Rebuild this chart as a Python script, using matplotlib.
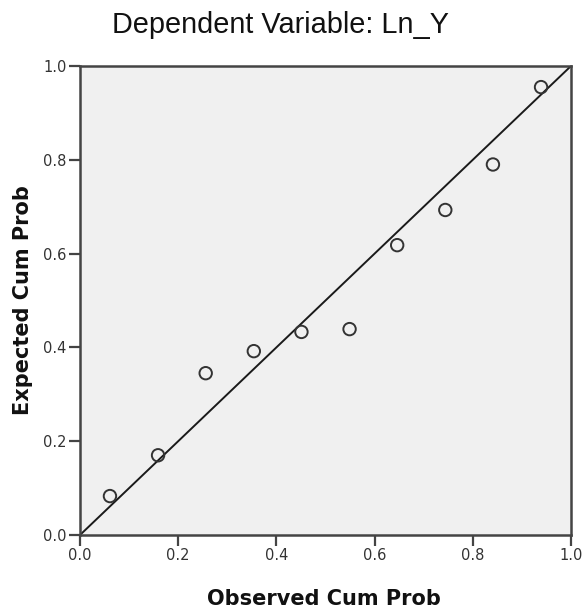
import matplotlib
matplotlib.use("Agg")
import matplotlib.pyplot as plt

observed = [0.061, 0.159, 0.256, 0.354, 0.451, 0.549, 0.646, 0.744, 0.841, 0.939]
expected = [0.083, 0.170, 0.345, 0.392, 0.433, 0.439, 0.618, 0.693, 0.790, 0.955]
ticks = [0.0, 0.2, 0.4, 0.6, 0.8, 1.0]
tick_labels = ["0.0", "0.2", "0.4", "0.6", "0.8", "1.0"]

plt.rcParams['font.family'] = ['DejaVu Sans']

W, H = 585, 610
fig = plt.figure(figsize=(W/100, H/100), dpi=100)
ax = fig.add_axes([80/W, 1-535/H, 491/W, 469/H])
ax.set_facecolor('#F0F0F0')
ax.plot([0, 1], [0, 1], color='#1a1a1a', lw=1.4, zorder=2)
ax.scatter(observed, expected, s=80, facecolors='none', edgecolors='#333333', linewidths=1.4, zorder=3)
ax.set_xlim(0, 1)
ax.set_ylim(0, 1)
ax.set_xticks(ticks)
ax.set_xticklabels(tick_labels)
ax.set_yticks(ticks)
ax.set_yticklabels(tick_labels)
for s in ax.spines.values():
    s.set_color('#444444')
    s.set_linewidth(1.8)
ax.tick_params(direction='out', length=8, width=1.6, color='#444444', labelsize=10.5, labelcolor='#333333', pad=1.5)

fig.text(323.5/W, 1-605/H, 'Observed Cum Prob', ha='center', va='baseline',
         fontsize=15, fontweight='bold', color='#111111')
fig.text(29/W, 1-300/H, 'Expected Cum Prob', ha='center', va='baseline', rotation=90,
         rotation_mode='anchor', fontsize=15, fontweight='bold', color='#111111')
fig.text(280.5/W, 1-33/H, 'Dependent Variable: Ln_Y', ha='center', va='baseline',
         fontsize=20.8, family=['Liberation Sans', 'DejaVu Sans'], color='#111111')
fig.savefig('out.png', dpi=100)
